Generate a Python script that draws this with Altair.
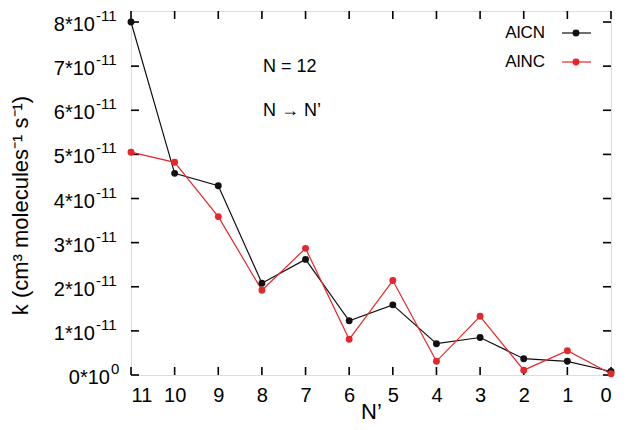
import altair as alt
import pandas as pd

n_prime = [11, 10, 9, 8, 7, 6, 5, 4, 3, 2, 1, 0]
k_alcn = [8.0, 4.57, 4.29, 2.08, 2.62, 1.23, 1.59, 0.71, 0.85, 0.37, 0.31, 0.08]
k_alnc = [5.05, 4.82, 3.59, 1.92, 2.87, 0.81, 2.14, 0.31, 1.33, 0.11, 0.55, 0.03]
series_names = ["AlCN", "AlNC"]
series_colors = ["#111111", "#e5262b"]
x_ticks = list(range(0, 12))
y_ticks = [i * 1e-11 for i in range(0, 9)]
y_label_main = ["0*10"] + [f"{i}*10" for i in range(1, 9)]
y_label_sup = ["0"] + ["-11"] * 8

rows = []
for name, vals in zip(series_names, [k_alcn, k_alnc]):
    for n, v in zip(n_prime, vals):
        rows.append({"nprime": n, "k": v * 1e-11, "series": name})
df = pd.DataFrame(rows)

W, H = 480, 364
FONT = "Liberation Sans"
XMIN, XMAX = 0, 11
YMIN, YMAX = 0, 8.25e-11
TL = 8

xscale = alt.Scale(domain=[XMAX, XMIN], nice=False, zero=False)
yscale = alt.Scale(domain=[YMIN, YMAX], nice=False, zero=False)
color = alt.Color("series:N", scale=alt.Scale(domain=series_names, range=series_colors), legend=None)

base = alt.Chart(df)

lines = base.mark_line(strokeWidth=1.2).encode(
    x=alt.X("nprime:Q", scale=xscale,
            axis=alt.Axis(values=x_ticks, format="d", ticks=False, domain=False, grid=False,
                          labelFont=FONT, labelFontSize=20, labelColor="black", labelPadding=10,
                          title="N\u2019", titleFont=FONT, titleFontSize=22, titleFontWeight="normal",
                          titleColor="black", titleX=W / 2, titleY=43, titleBaseline="alphabetic",
                          titleAlign="center")),
    y=alt.Y("k:Q", scale=yscale,
            axis=alt.Axis(values=y_ticks, labels=False, ticks=False, domain=False, grid=False,
                          title="k (cm\u00b3 molecules\u207b\u00b9 s\u207b\u00b9)", titleFont=FONT,
                          titleFontSize=22, titleFontWeight="normal", titleColor="black",
                          titleX=-111, titleY=194, titleAngle=270, titleAlign="center",
                          titleBaseline="middle")),
    color=color,
    detail="series:N",
)
points = base.mark_point(filled=True, size=48, opacity=1).encode(
    x=alt.X("nprime:Q", scale=xscale), y=alt.Y("k:Q", scale=yscale), color=color
)

# y tick labels with real superscripts (gnuplot style)
yt = pd.DataFrame({"t": y_ticks, "main": y_label_main, "sup": y_label_sup})
ylab_main = alt.Chart(yt).transform_calculate(px="datum.t == 0 ? -21 : -36").mark_text(
    align="right", baseline="middle", font=FONT, fontSize=20, color="black", dy=3).encode(
    x=alt.X("px:Q", scale=None), y=alt.Y("t:Q", scale=yscale), text="main:N")
ylab_sup = alt.Chart(yt).transform_calculate(px="datum.t == 0 ? -20 : -35").mark_text(
    align="left", baseline="middle", font=FONT, fontSize=15, color="black", dy=-6).encode(
    x=alt.X("px:Q", scale=None), y=alt.Y("t:Q", scale=yscale), text="sup:N")

# inward mirrored ticks on all four edges
xt = pd.DataFrame({"t": x_ticks})
TICK = dict(strokeWidth=1.6, color="#000000", opacity=1)
tick_bottom = alt.Chart(xt).mark_rule(**TICK).encode(
    x=alt.X("t:Q", scale=xscale), y=alt.value(H - TL), y2=alt.value(H))
tick_top = alt.Chart(xt).mark_rule(**TICK).encode(
    x=alt.X("t:Q", scale=xscale), y=alt.value(0), y2=alt.value(TL))
tick_left = alt.Chart(yt).mark_rule(**TICK).encode(
    y=alt.Y("t:Q", scale=yscale), x=alt.value(0), x2=alt.value(TL))
tick_right = alt.Chart(yt).mark_rule(**TICK).encode(
    y=alt.Y("t:Q", scale=yscale), x=alt.value(W - TL), x2=alt.value(W))

# legend (symbol to the right of the label, gnuplot style)
leg = pd.DataFrame({"series": series_names, "row": [0, 1]})
leg_y = "22 + datum.row*29"
leg_text = alt.Chart(leg).transform_calculate(py=leg_y).mark_text(
    align="right", baseline="middle", font=FONT, fontSize=17, color="black").encode(
    x=alt.value(414), y=alt.Y("py:Q", scale=None), text="series:N")
leg_line = alt.Chart(leg).transform_calculate(py=leg_y).mark_rule(strokeWidth=1.2).encode(
    x=alt.value(431), x2=alt.value(460), y=alt.Y("py:Q", scale=None), color=color)
leg_pt = alt.Chart(leg).transform_calculate(py=leg_y).mark_point(filled=True, size=48, opacity=1).encode(
    x=alt.value(445), y=alt.Y("py:Q", scale=None), color=color)

ann = pd.DataFrame({"txt": ["N = 12", "N \u2192 N\u2019"], "row": [0, 1]})
ann_text = alt.Chart(ann).transform_calculate(py="56 + datum.row*44").mark_text(
    align="left", baseline="middle", font=FONT, fontSize=18, color="black").encode(
    x=alt.value(132), y=alt.Y("py:Q", scale=None), text="txt:N")

chart = alt.layer(
    tick_bottom, tick_top, tick_left, tick_right,
    lines, points, ylab_main, ylab_sup, leg_line, leg_pt, leg_text, ann_text,
).properties(
    width=W, height=H,
    autosize=alt.AutoSizeParams(type="none"),
    padding={"left": 123, "top": 3, "right": 15, "bottom": 47},
).configure_view(stroke="black", strokeWidth=1.3).configure(background="white")

chart.save("out.html", embed_options={"renderer": "svg", "actions": False})
